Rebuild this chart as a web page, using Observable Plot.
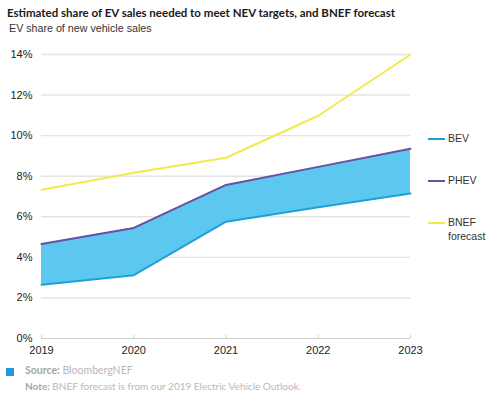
<!DOCTYPE html>
<html>
<head>
<meta charset="utf-8">
<script src="https://cdn.jsdelivr.net/npm/d3@7"></script>
<script src="https://cdn.jsdelivr.net/npm/@observablehq/plot@0.6"></script>
<style>
  html, body { margin: 0; padding: 0; background: #fff; }
  #wrap { position: relative; width: 500px; height: 399px; overflow: hidden; font-family: Lato, "Open Sans", sans-serif; }
  #title { position: absolute; left: 7px; top: 6px; font-size: 11.5px; font-weight: 700; color: #1a1a1a; white-space: nowrap; }
  #subtitle { position: absolute; left: 9px; top: 22px; font-family: "Liberation Sans", Arial, sans-serif; font-size: 10.7px; color: #333; white-space: nowrap; }
  #chart { position: absolute; left: 0; top: 40px; }
  .leg { position: absolute; left: 428px; font-family: "Liberation Sans", Arial, sans-serif; font-size: 10.5px; color: #333; line-height: 14px; }
  .leg .sw { position: absolute; left: 0; top: 7px; width: 17px; height: 2px; }
  .leg .lb { position: absolute; left: 20px; top: 0; white-space: nowrap; }
  #foot { position: absolute; left: 6px; top: 364px; font-size: 10px; color: #b8b8b8; }
  #foot .sq { position: absolute; left: 0; top: 4px; width: 8px; height: 8px; background: #1f9bd7; }
  #foot .l1 { position: absolute; left: 19px; top: 0; white-space: nowrap; font-size: 10.5px; }
  #foot .l2 { position: absolute; left: 19px; top: 16px; white-space: nowrap; }
  #foot b { font-weight: 700; color: #a6a6a6; }
</style>
</head>
<body>
<div id="wrap">
  <div id="title">Estimated share of EV sales needed to meet NEV targets, and BNEF forecast</div>
  <div id="subtitle">EV share of new vehicle sales</div>
  <div id="chart"></div>
  <div class="leg" style="top:131px"><div class="sw" style="background:#1a9fd8"></div><div class="lb">BEV</div></div>
  <div class="leg" style="top:173px"><div class="sw" style="background:#6b4fa0"></div><div class="lb">PHEV</div></div>
  <div class="leg" style="top:215px"><div class="sw" style="background:#f2e94e"></div><div class="lb">BNEF<br>forecast</div></div>
  <div id="foot">
    <div class="sq"></div>
    <div class="l1"><b>Source:</b> BloombergNEF</div>
    <div class="l2"><b>Note:</b> BNEF forecast is from our 2019 Electric Vehicle Outlook.</div>
  </div>
</div>
<script>
const years = [2019, 2020, 2021, 2022, 2023];
const bev   = [2.65, 3.12, 5.76, 6.47, 7.15];
const phev  = [4.66, 5.45, 7.57, 8.46, 9.35];
const bnef  = [7.33, 8.17, 8.91, 10.98, 14.0];
const yTicks = [0, 2, 4, 6, 8, 10, 12, 14];

const data = years.map((y, i) => ({year: y, bev: bev[i], phev: phev[i], bnef: bnef[i]}));

const chart = Plot.plot({
  width: 500,
  height: 330,
  marginLeft: 41,
  marginRight: 90,
  marginTop: 14,
  marginBottom: 32,
  style: { fontFamily: "'Liberation Sans', Arial, sans-serif", fontSize: "11px", color: "#222", background: "transparent" },
  x: { domain: [2019, 2023], ticks: years, tickFormat: d => String(d) },
  y: { domain: [0, 14], ticks: yTicks, tickFormat: d => d + "%" },
  marks: [
    Plot.ruleY(yTicks.filter(d => d > 0), { stroke: "#e4e4e4", strokeWidth: 1.4 }),
    Plot.ruleY([0], { stroke: "#cfcfcf", strokeWidth: 1.2 }),
    Plot.ruleX(years, { y1: 0, y2: 0.15, stroke: "#cfcfcf", strokeWidth: 1 }),
    Plot.areaY(data, { x: "year", y1: "bev", y2: "phev", fill: "#5cc8ef" }),
    Plot.line(data, { x: "year", y: "bev", stroke: "#1a9fd8", strokeWidth: 2 }),
    Plot.line(data, { x: "year", y: "phev", stroke: "#6b4fa0", strokeWidth: 2 }),
    Plot.line(data, { x: "year", y: "bnef", stroke: "#f2e94e", strokeWidth: 2 }),
    Plot.axisY({ ticks: yTicks, tickSize: 0, tickPadding: 9, tickFormat: d => d + "%", label: null, fontSize: 11 }),
    Plot.axisX({ ticks: years, tickSize: 0, tickPadding: 8, tickFormat: d => String(d), label: null, fontSize: 11 })
  ]
});
document.getElementById("chart").appendChild(chart);
</script>
</body>
</html>
